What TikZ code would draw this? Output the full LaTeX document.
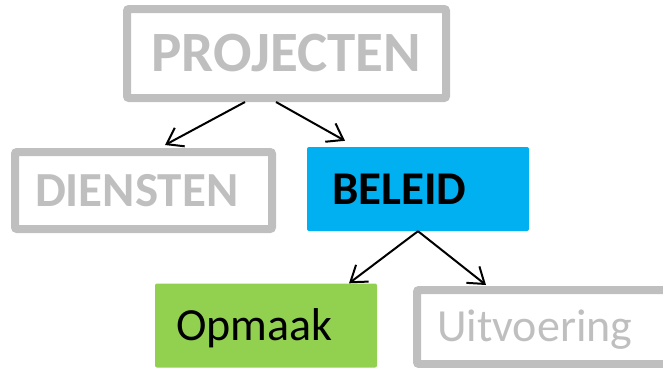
\documentclass[tikz,border=0pt]{standalone}
\usepackage{fontspec}
\setmainfont{Carlito}
\usetikzlibrary{arrows.meta}
\definecolor{boxgray}{HTML}{BFBFBF}
\definecolor{beleidblue}{HTML}{00B0F0}
\definecolor{opmaakgreen}{HTML}{92D050}
\tikzset{
  box/.style={rectangle, rounded corners=2pt, inner ysep=0pt, text depth=0pt},
  graybox/.style={box, draw=boxgray, line width=8pt, text=boxgray},
  conn/.style={line width=2pt, -{Straight Barb[length=15pt,width=21pt,line width=2pt]}},
}
\begin{document}
\begin{tikzpicture}[x=1pt,y=-1pt]
\useasboundingbox (0,0) rectangle (663,367);
\clip (0,0) rectangle (663,367);
% PROJECTEN
\node[graybox, minimum width=319pt, minimum height=89pt, text height=36pt,
  font=\fontsize{57}{60}\selectfont\bfseries] (proj) at (286.5,53.5) {PROJECTEN};
% DIENSTEN
\node[graybox, minimum height=77pt, text width=217pt, align=left, inner xsep=20pt, text height=31pt,
  font=\fontsize{49}{52}\selectfont\bfseries] (dien) at (143.5,190.5) {DIENSTEN};
% BELEID
\node[box, fill=beleidblue, minimum height=84pt, text width=172pt, align=left, inner xsep=25pt, text height=30pt,
  font=\fontsize{47}{50}\selectfont\bfseries, text=black] (bel) at (418,189) {BELEID};
% Opmaak
\node[box, fill=opmaakgreen, minimum height=84pt, text width=180pt, align=left, inner xsep=21pt, text height=29pt,
  font=\fontsize{46}{50}\selectfont, text=black] (opm) at (266,325.5) {Opmaak};
% Uitvoering
\node[graybox, minimum height=74pt, text width=233pt, align=left, inner xsep=20pt, text height=29pt,
  font=\fontsize{46}{50}\selectfont] (uitv) at (553.5,327) {Uitvoering};
% connectors
\draw[conn] ([xshift=-41.5pt]proj.south) -- ([xshift=21.5pt,yshift=3pt]dien.north);
\draw[conn] ([xshift=-10.5pt]proj.south) -- ([xshift=-73pt,yshift=6pt]bel.north);
\draw[conn] (bel.south) -- ([xshift=83pt]opm.north);
\draw[conn] (bel.south) -- ([xshift=73pt,yshift=1pt]uitv.north west);
\end{tikzpicture}
\end{document}
